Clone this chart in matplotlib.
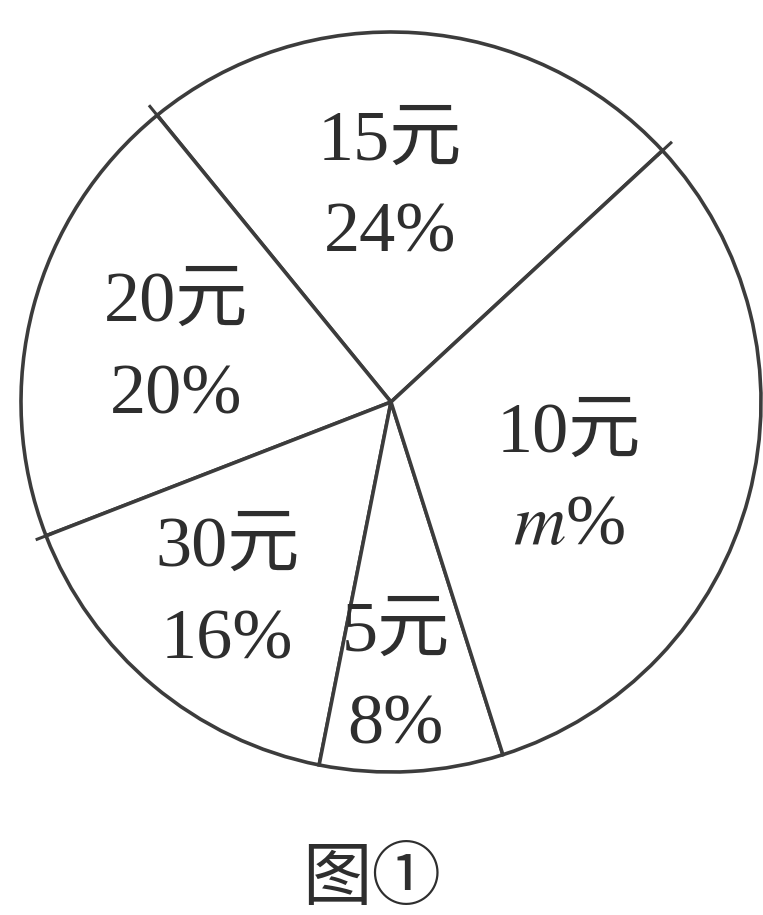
import numpy as np
import matplotlib.pyplot as plt

# ====== DATA ======
amounts = ["15元", "20元", "30元", "5元", "10元"]
shares = [24, 20, 16, 8, 32]
pct_labels = ["24%", "20%", "16%", "8%", "$m$%"]
caption = "图①"
# ==================

# label placement: (angle in degrees, distance from centre as fraction of radius)
label_pos = [(90.3, 0.578), (166.4, 0.598), (229.7, 0.684), (271, 0.751), (336.3, 0.525)]
# boundaries whose line pokes a little past the rim
overshoot = {0: 1.035, 1: 1.035, 2: 1.03}

plt.rcParams["font.family"] = ["Liberation Serif", "Noto Sans CJK SC"]
plt.rcParams["mathtext.fontset"] = "stix"

line_col = "#3c3c3c"
text_col = "#2e2e2e"

fig = plt.figure(figsize=(7.63, 9.15), dpi=100)
cx, cy, r = 391, 402, 370
ax = fig.add_axes([(cx - r) / 763, (915 - cy - r) / 915, 2 * r / 763, 2 * r / 915])

wedges, _ = ax.pie(shares, startangle=42.8, counterclock=True, radius=1,
                   colors=["white"] * len(shares),
                   wedgeprops=dict(edgecolor=line_col, linewidth=2.6))
ax.set_xlim(-1, 1)
ax.set_ylim(-1, 1)
ax.axis("off")

for i, ext in overshoot.items():
    th = np.deg2rad(wedges[i].theta1)
    ax.plot([0.98 * np.cos(th), ext * np.cos(th)], [0.98 * np.sin(th), ext * np.sin(th)],
            color=line_col, lw=2.2, solid_capstyle="butt")

for amt, pct, (ang, dist) in zip(amounts, pct_labels, label_pos):
    a = np.deg2rad(ang)
    ax.text(dist * np.cos(a), dist * np.sin(a), amt + "\n" + pct, ha="center", va="center",
            fontsize=52, color=text_col, linespacing=1.55)

fig.text(372 / 763, 1 - 879 / 915, caption, ha="center", va="center", fontsize=50,
         color=text_col, family=["Noto Sans CJK SC", "DejaVu Sans"])

fig.savefig("out.png", dpi=100)
